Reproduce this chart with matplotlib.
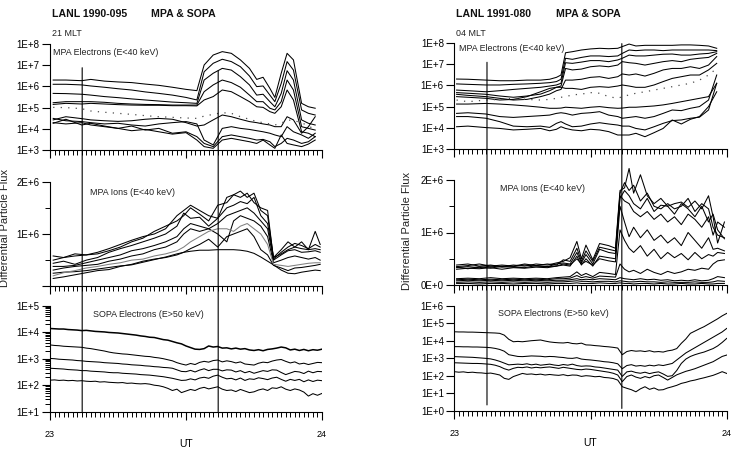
import matplotlib.pyplot as plt
import numpy as np
from matplotlib.patches import ConnectionPatch
from matplotlib.ticker import LogLocator, NullFormatter

plt.rcParams["font.family"] = ["Liberation Sans", "DejaVu Sans"]

# times are minutes after 23 UT
# ---------------- LANL 1990-095 (left) ----------------
t_el_L = [0.7, 3.5, 7, 9, 12, 15, 18, 21, 24, 27, 30, 32.4, 34, 36, 38, 40, 42, 44,
          45.6, 47, 48.5, 49.6, 51, 52.3, 53.7, 55.5, 57, 58.5]
# MPA electrons, log10 of flux
eL1 = [6.30, 6.30, 6.27, 6.33, 6.25, 6.21, 6.18, 6.11, 6.05, 5.96, 5.86, 5.80, 7.01, 7.48,
       7.64, 7.56, 7.25, 6.85, 6.33, 6.43, 5.91, 5.48, 6.62, 7.56, 7.25, 5.20, 5.04, 4.97]
eL2 = [6.10, 6.10, 6.07, 6.02, 5.96, 5.89, 5.83, 5.74, 5.67, 5.59, 5.48, 5.36, 6.69, 7.09,
       7.28, 7.17, 6.93, 6.49, 5.99, 6.02, 5.59, 5.28, 6.14, 7.17, 6.77, 4.89, 4.73, 4.65]
eL3 = [5.67, 5.66, 5.63, 5.59, 5.52, 5.47, 5.41, 5.36, 5.31, 5.26, 5.23, 5.20, 6.30, 6.62,
       6.85, 6.77, 6.46, 6.07, 5.59, 5.63, 5.28, 5.04, 5.67, 6.74, 6.30, 4.42, 4.26, 4.18]
eL4 = [5.23, 5.28, 5.28, 5.28, 5.25, 5.20, 5.17, 5.15, 5.14, 5.12, 5.12, 5.12, 5.75, 6.07,
       6.30, 6.18, 5.96, 5.59, 5.28, 5.28, 4.97, 4.89, 5.28, 6.30, 5.83, 4.10, 4.02, 3.94]
eL5 = [5.15, 5.20, 5.17, 5.20, 5.17, 5.14, 5.12, 5.11, 5.11, 5.09, 5.09, 5.08, 5.36, 5.52,
       5.83, 5.75, 5.52, 5.28, 5.04, 5.01, 4.81, 4.73, 5.04, 5.83, 5.36, 3.86, 3.79, 3.63]
eL_dot = [5.01, 5.00, 4.95, 4.84, 4.78, 4.73, 4.68, 4.62, 4.57, 4.54, 4.51, 4.49, 4.60, 4.68,
          4.76, 4.73, 4.57, 4.45, 4.34, 4.29, 4.23, 4.18, 4.26, 4.42, 4.39, 4.29, 4.13, 3.97]
eL6 = [4.42, 4.57, 4.48, 4.42, 4.38, 4.35, 4.38, 4.45, 4.49, 4.45, 4.29, 4.13, 4.18, 4.42,
       4.65, 4.57, 4.45, 4.34, 4.29, 4.23, 4.18, 4.10, 4.10, 4.57, 4.42, 3.79, 4.10, 4.57]
eL7 = [4.49, 4.38, 4.34, 4.29, 4.23, 4.26, 4.18, 4.13, 4.23, 4.29, 4.34, 4.23, 3.47, 3.24,
       4.02, 4.10, 4.02, 3.97, 3.91, 3.86, 3.79, 3.71, 3.63, 4.10, 3.86, 3.71, 3.55, 3.79]
eL8 = [4.29, 4.23, 4.29, 4.18, 4.10, 4.02, 4.13, 3.94, 4.02, 3.79, 3.86, 3.63, 3.31, 3.16,
       3.63, 3.71, 3.63, 3.55, 3.47, 3.50, 3.39, 3.16, 3.31, 3.55, 3.47, 3.31, 3.39, 3.63]
eL9 = [4.26, 4.45, 4.18, 4.26, 4.13, 4.02, 3.91, 3.97, 3.86, 3.75, 3.82, 3.47, 3.16, 3.08,
       3.47, 3.55, 3.47, 3.39, 3.31, 3.47, 3.24, 3.08, 3.71, 3.31, 3.24, 3.16, 3.28, 3.47]

t_ion_L = [0.7, 3, 5.5, 8, 10.5, 13, 15.5, 18, 20.5, 23, 25.5, 28, 29.5, 31, 33, 35, 37, 39,
           40.5, 42, 43.5, 45, 46.5, 48, 49.3, 51, 52.5, 54, 55.5, 57, 58.5, 59.6]
# MPA ions, flux in units of 1E+6
iL1 = [0.58, 0.55, 0.62, 0.60, 0.65, 0.72, 0.80, 0.88, 0.95, 1.00, 1.10, 1.35, 1.45, 1.55, 1.45, 1.35,
       1.30, 1.70, 1.75, 1.82, 1.70, 1.78, 1.45, 1.35, 0.55, 0.70, 0.85, 0.75, 0.85, 0.70, 1.05, 0.80]
iL2 = [0.50, 0.55, 0.58, 0.60, 0.62, 0.68, 0.75, 0.85, 0.92, 1.05, 1.15, 1.25, 1.35, 1.50, 1.38, 1.25,
       1.55, 1.60, 1.75, 1.70, 1.78, 1.60, 1.50, 1.45, 0.52, 0.65, 0.75, 0.82, 0.78, 0.72, 0.80, 0.75]
iL3 = [0.44, 0.48, 0.42, 0.50, 0.55, 0.65, 0.72, 0.78, 0.85, 0.92, 1.00, 1.15, 1.40, 1.30, 1.32, 1.15,
       1.30, 1.50, 1.55, 1.62, 1.58, 1.70, 1.35, 1.20, 0.55, 0.62, 0.70, 0.75, 0.72, 0.70, 0.72, 0.70]
iL4 = [0.38, 0.38, 0.40, 0.45, 0.50, 0.55, 0.60, 0.68, 0.72, 0.78, 0.85, 0.95, 1.10, 1.20, 1.15, 1.10,
       1.20, 1.35, 1.40, 1.45, 1.50, 1.40, 1.25, 1.10, 0.50, 0.60, 0.68, 0.70, 0.65, 0.66, 0.68, 0.65]
iL5 = [0.31, 0.35, 0.38, 0.40, 0.42, 0.48, 0.52, 0.58, 0.62, 0.70, 0.75, 0.85, 1.00, 1.10, 1.05, 1.10,
       1.00, 0.85, 1.25, 1.35, 1.30, 1.25, 1.15, 0.95, 0.45, 0.50, 0.55, 0.58, 0.55, 0.52, 0.55, 0.50]
iL6 = [0.20, 0.26, 0.30, 0.35, 0.38, 0.42, 0.45, 0.50, 0.52, 0.58, 0.62, 0.68, 0.75, 0.85, 0.95, 1.05,
       1.10, 1.10, 1.05, 1.15, 1.20, 1.10, 1.00, 0.80, 0.42, 0.40, 0.38, 0.40, 0.42, 0.44, 0.45, 0.45]
iL7 = [0.15, 0.18, 0.22, 0.26, 0.30, 0.32, 0.38, 0.42, 0.48, 0.52, 0.55, 0.60, 0.65, 0.72, 0.80, 0.90,
       0.75, 0.95, 1.00, 1.05, 1.10, 0.95, 0.70, 0.60, 0.40, 0.35, 0.30, 0.35, 0.36, 0.38, 0.40, 0.42]
iL8 = [0.25, 0.27, 0.28, 0.30, 0.33, 0.36, 0.39, 0.41, 0.46, 0.51, 0.56, 0.62, 0.65, 0.67, 0.69, 0.69,
       0.70, 0.70, 0.70, 0.69, 0.67, 0.63, 0.56, 0.48, 0.41, 0.31, 0.25, 0.24, 0.27, 0.29, 0.31, 0.30]

t_sopa = np.arange(61)
# SOPA electrons, log10 of flux, one value a minute
sL1 = [4.14, 4.13, 4.12, 4.12, 4.10, 4.09, 4.08, 4.06, 4.07, 4.05, 4.03, 4.02, 4.01, 3.99, 3.98, 3.97,
       3.95, 3.93, 3.91, 3.89, 3.86, 3.84, 3.81, 3.80, 3.76, 3.72, 3.70, 3.65, 3.60, 3.56, 3.48, 3.42,
       3.36, 3.35, 3.38, 3.48, 3.44, 3.46, 3.40, 3.41, 3.37, 3.40, 3.36, 3.38, 3.33, 3.31, 3.34, 3.30,
       3.35, 3.37, 3.40, 3.44, 3.41, 3.33, 3.36, 3.31, 3.35, 3.30, 3.34, 3.32, 3.36]
sL2 = [3.52, 3.50, 3.49, 3.47, 3.46, 3.45, 3.44, 3.43, 3.40, 3.38, 3.35, 3.32, 3.29, 3.25, 3.22, 3.20,
       3.18, 3.17, 3.15, 3.13, 3.11, 3.09, 3.08, 3.05, 3.03, 3.00, 2.96, 2.92, 2.85, 2.80, 2.76, 2.82,
       2.78, 2.86, 2.90, 2.87, 2.93, 2.95, 2.88, 2.92, 2.89, 2.84, 2.88, 2.80, 2.78, 2.76, 2.83, 2.87,
       2.85, 2.91, 2.95, 2.97, 2.90, 2.84, 2.88, 2.80, 2.83, 2.78, 2.82, 2.86, 2.85]
sL3 = [3.01, 3.00, 2.98, 2.97, 2.96, 2.95, 2.93, 2.92, 2.90, 2.89, 2.88, 2.87, 2.85, 2.84, 2.83, 2.82,
       2.80, 2.79, 2.77, 2.76, 2.75, 2.73, 2.72, 2.70, 2.69, 2.67, 2.66, 2.64, 2.58, 2.52, 2.51, 2.56,
       2.50, 2.57, 2.62, 2.55, 2.60, 2.60, 2.54, 2.58, 2.57, 2.50, 2.55, 2.47, 2.52, 2.45, 2.50, 2.55,
       2.52, 2.58, 2.57, 2.48, 2.40, 2.46, 2.52, 2.50, 2.44, 2.53, 2.47, 2.52, 2.51]
sL4 = [2.64, 2.63, 2.62, 2.61, 2.59, 2.58, 2.57, 2.55, 2.55, 2.53, 2.52, 2.51, 2.50, 2.48, 2.47, 2.47,
       2.45, 2.44, 2.43, 2.42, 2.40, 2.39, 2.38, 2.36, 2.34, 2.32, 2.29, 2.26, 2.22, 2.18, 2.19, 2.24,
       2.20, 2.27, 2.30, 2.26, 2.34, 2.38, 2.30, 2.24, 2.26, 2.20, 2.27, 2.18, 2.24, 2.22, 2.28, 2.25,
       2.21, 2.27, 2.30, 2.22, 2.15, 2.22, 2.18, 2.22, 2.13, 2.20, 2.14, 2.19, 2.17]
sL5 = [2.19, 2.20, 2.18, 2.19, 2.17, 2.18, 2.16, 2.17, 2.15, 2.14, 2.15, 2.12, 2.13, 2.11, 2.10, 2.09,
       2.10, 2.07, 2.08, 2.06, 2.05, 2.06, 2.04, 2.00, 1.98, 1.94, 1.88, 1.80, 1.85, 1.72, 1.78, 1.84,
       1.80, 1.88, 1.92, 1.86, 1.90, 1.94, 1.85, 1.80, 1.82, 1.76, 1.84, 1.78, 1.72, 1.75, 1.82, 1.86,
       1.80, 1.90, 1.88, 1.94, 1.85, 1.80, 1.86, 1.82, 1.74, 1.59, 1.68, 1.62, 1.69]

# ---------------- LANL 1991-080 (right) ----------------
t_el_R = [0.5, 3, 7, 10, 13, 16, 19, 21, 22.5, 23.5, 24.5, 26, 28, 30, 32, 34, 36, 37, 38.5,
          40, 42, 44, 46, 48, 50, 52, 54, 56, 57.8]
eR1 = [6.30, 6.29, 6.25, 6.22, 6.22, 6.25, 6.25, 6.29, 6.38, 6.49, 7.54, 7.59, 7.67, 7.72, 7.75,
       7.73, 7.75, 7.83, 7.95, 7.86, 7.89, 7.89, 7.89, 7.89, 7.91, 7.91, 7.89, 7.86, 7.75]
eR2 = [6.07, 6.05, 6.02, 6.02, 6.05, 6.07, 6.10, 6.13, 6.18, 6.29, 7.28, 7.23, 7.32, 7.39, 7.39,
       7.36, 7.39, 7.51, 7.67, 7.64, 7.67, 7.67, 7.64, 7.67, 7.67, 7.67, 7.67, 7.67, 7.64]
eR3 = [5.78, 5.75, 5.70, 5.75, 5.81, 5.86, 5.91, 5.97, 6.02, 6.10, 7.07, 7.04, 7.10, 7.17, 7.17,
       7.12, 7.20, 7.28, 7.43, 7.39, 7.39, 7.43, 7.47, 7.48, 7.43, 7.43, 7.48, 7.51, 7.59]
eR4 = [5.66, 5.63, 5.58, 5.50, 5.44, 5.50, 5.59, 5.75, 5.91, 5.97, 6.80, 6.73, 6.77, 6.88, 6.92,
       6.88, 6.96, 7.12, 7.07, 7.04, 6.96, 7.04, 7.12, 7.17, 7.12, 7.23, 7.28, 7.32, 7.51]
eR5 = [5.58, 5.53, 5.47, 5.39, 5.31, 5.34, 5.47, 5.59, 5.75, 5.81, 6.25, 6.25, 6.29, 6.38, 6.41,
       6.33, 6.41, 6.54, 6.49, 6.54, 6.44, 6.57, 6.73, 6.80, 6.80, 6.88, 6.80, 6.96, 7.36]
eR6 = [5.47, 5.44, 5.39, 5.31, 5.34, 5.47, 5.70, 5.86, 5.91, 5.91, 5.86, 5.86, 5.81, 5.91, 5.94,
       5.91, 5.97, 6.02, 5.97, 5.91, 5.91, 6.02, 6.18, 6.33, 6.41, 6.49, 6.49, 6.73, 7.04]
eR_dot = [5.31, 5.23, 5.31, 5.34, 5.39, 5.34, 5.31, 5.34, 5.39, 5.44, 5.47, 5.55, 5.59, 5.66, 5.63,
          5.47, 5.39, 5.47, 5.55, 5.63, 5.70, 5.78, 5.86, 5.94, 6.02, 6.10, 6.25, 6.49, 6.80]
eR7 = [5.12, 5.12, 5.15, 5.12, 5.08, 5.03, 4.97, 4.92, 4.92, 4.93, 4.97, 4.95, 4.92, 4.97, 5.00,
       4.95, 4.92, 4.93, 4.97, 4.97, 5.00, 5.03, 5.08, 5.15, 5.23, 5.31, 5.39, 5.47, 6.10]
eR8 = [4.68, 4.71, 4.65, 4.53, 4.49, 4.53, 4.57, 4.60, 4.68, 4.71, 4.68, 4.60, 4.68, 4.71, 4.76,
       4.60, 4.53, 4.45, 4.49, 4.53, 4.45, 4.53, 4.68, 4.84, 4.81, 4.92, 5.00, 5.31, 6.49]
eR9 = [4.53, 4.53, 4.45, 4.29, 4.08, 4.05, 4.08, 4.02, 4.21, 4.29, 4.18, 4.05, 4.08, 4.18, 4.24,
       4.18, 4.13, 4.08, 4.08, 3.97, 3.90, 4.05, 4.21, 4.34, 4.37, 4.45, 4.50, 4.84, 6.10]
eR10 = [4.05, 4.08, 4.01, 3.97, 3.90, 3.93, 3.97, 3.86, 3.93, 4.05, 3.97, 3.90, 3.86, 3.93, 3.90,
        3.82, 3.66, 3.66, 3.66, 3.74, 3.58, 3.77, 3.97, 4.37, 4.18, 4.40, 4.53, 5.00, 5.70]

t_ion_R = [0.5, 3, 5.5, 8, 10.5, 13, 15.5, 18, 20.5, 22.5, 24, 25.5, 27, 28, 29, 30.5, 32, 34, 35.5,
           36.5, 37.5, 38.5, 39.5, 41, 42.5, 44, 45.5, 47, 48.5, 50, 51.5, 53, 54.5, 56, 57, 58, 59.5]
iR1 = [0.38, 0.40, 0.36, 0.38, 0.35, 0.38, 0.36, 0.40, 0.38, 0.42, 0.45, 0.52, 0.83, 0.50, 0.76, 0.48,
       0.79, 0.75, 0.70, 1.80, 1.85, 2.22, 1.75, 2.10, 1.70, 1.55, 1.65, 1.50, 1.55, 1.58, 1.48, 1.60,
       1.45, 1.70, 1.30, 0.80, 1.20]
iR2 = [0.35, 0.37, 0.40, 0.36, 0.38, 0.36, 0.40, 0.37, 0.40, 0.38, 0.48, 0.45, 0.70, 0.45, 0.65, 0.45,
       0.72, 0.68, 0.65, 1.75, 1.95, 1.80, 1.90, 1.60, 1.75, 1.50, 1.45, 1.55, 1.45, 1.50, 1.65, 1.40,
       1.55, 1.45, 1.10, 0.95, 0.90]
iR3 = [0.33, 0.35, 0.33, 0.36, 0.34, 0.35, 0.38, 0.36, 0.35, 0.40, 0.42, 0.40, 0.62, 0.42, 0.58, 0.40,
       0.68, 0.62, 0.60, 1.65, 1.80, 1.70, 1.55, 1.45, 1.65, 1.40, 1.52, 1.50, 1.35, 1.55, 1.45, 1.30,
       1.50, 1.20, 1.35, 1.05, 0.88]
iR4 = [0.30, 0.32, 0.31, 0.33, 0.30, 0.33, 0.32, 0.34, 0.33, 0.36, 0.38, 0.36, 0.55, 0.38, 0.50, 0.36,
       0.55, 0.52, 0.50, 1.70, 1.60, 1.55, 1.40, 1.30, 1.40, 1.25, 1.35, 1.20, 1.30, 1.15, 1.35, 1.25,
       1.10, 1.30, 0.95, 1.20, 1.10]
iR5 = [0.34, 0.31, 0.35, 0.32, 0.36, 0.34, 0.33, 0.37, 0.35, 0.36, 0.40, 0.38, 0.50, 0.40, 0.45, 0.38,
       0.50, 0.46, 0.44, 1.50, 1.20, 0.92, 1.10, 0.90, 1.05, 0.85, 0.95, 0.80, 0.90, 0.75, 1.00, 0.85,
       0.70, 0.90, 0.68, 0.70, 0.65]
iR6 = [0.12, 0.13, 0.12, 0.14, 0.12, 0.13, 0.12, 0.13, 0.12, 0.14, 0.15, 0.16, 0.25, 0.18, 0.22, 0.16,
       0.24, 0.22, 0.20, 1.05, 0.85, 0.70, 0.62, 0.75, 0.55, 0.68, 0.50, 0.62, 0.52, 0.60, 0.48, 0.62,
       0.50, 0.58, 0.55, 0.62, 0.60]
iR7 = [0.10, 0.11, 0.10, 0.11, 0.10, 0.11, 0.10, 0.11, 0.10, 0.12, 0.12, 0.13, 0.18, 0.14, 0.16, 0.13,
       0.17, 0.16, 0.15, 0.40, 0.30, 0.25, 0.28, 0.22, 0.30, 0.24, 0.20, 0.26, 0.22, 0.25, 0.30, 0.28,
       0.32, 0.30, 0.40, 0.46, 0.48]
iR8 = [0.08, 0.09, 0.08, 0.09, 0.08, 0.09, 0.08, 0.09, 0.08, 0.09, 0.09, 0.10, 0.12, 0.10, 0.11, 0.10,
       0.12, 0.11, 0.10, 0.14, 0.12, 0.11, 0.10, 0.12, 0.10, 0.11, 0.09, 0.10, 0.08, 0.09, 0.08, 0.10,
       0.08, 0.09, 0.12, 0.16, 0.14]
iR9 = [0.05, 0.06, 0.05, 0.06, 0.05, 0.06, 0.05, 0.06, 0.05, 0.06, 0.06, 0.07, 0.08, 0.07, 0.07, 0.06,
       0.07, 0.07, 0.06, 0.08, 0.07, 0.06, 0.06, 0.07, 0.06, 0.06, 0.05, 0.06, 0.05, 0.05, 0.05, 0.06,
       0.05, 0.05, 0.06, 0.08, 0.07]
iR10 = [0.03, 0.03, 0.02, 0.03, 0.03, 0.02, 0.03, 0.03, 0.02, 0.03, 0.03, 0.03, 0.04, 0.03, 0.03, 0.03,
        0.04, 0.03, 0.03, 0.04, 0.03, 0.03, 0.02, 0.03, 0.03, 0.02, 0.03, 0.02, 0.02, 0.03, 0.02, 0.02,
        0.03, 0.02, 0.02, 0.03, 0.03]

sR1 = [4.51, 4.50, 4.50, 4.49, 4.49, 4.48, 4.47, 4.46, 4.45, 4.44, 4.42, 4.32, 4.08, 3.94, 3.96, 3.94,
       3.97, 4.00, 4.02, 4.04, 3.98, 3.93, 3.90, 3.88, 3.87, 3.90, 3.84, 3.82, 3.86, 3.76, 3.75, 3.72,
       3.70, 3.67, 3.65, 3.62, 3.58, 3.20, 3.38, 3.44, 3.40, 3.42, 3.38, 3.43, 3.36, 3.38, 3.35, 3.42,
       3.46, 3.55, 3.85, 4.10, 4.42, 4.55, 4.68, 4.80, 4.95, 5.10, 5.25, 5.42, 5.56]
sR2 = [3.66, 3.66, 3.65, 3.65, 3.64, 3.64, 3.63, 3.62, 3.60, 3.56, 3.50, 3.40, 3.20, 3.15, 3.10, 3.09,
       3.11, 3.13, 3.12, 3.11, 3.08, 3.10, 3.09, 3.06, 3.04, 3.00, 2.99, 3.03, 2.95, 2.92, 2.90, 2.87,
       2.84, 2.80, 2.78, 2.74, 2.68, 2.40, 2.58, 2.63, 2.55, 2.58, 2.54, 2.60, 2.56, 2.62, 2.58, 2.64,
       2.70, 2.90, 3.10, 3.30, 3.45, 3.60, 3.75, 3.90, 4.05, 4.20, 4.35, 4.50, 4.70]
sR3 = [3.09, 3.08, 3.07, 3.06, 3.05, 3.03, 3.01, 2.99, 2.96, 2.90, 2.82, 2.72, 2.62, 2.64, 2.66, 2.64,
       2.68, 2.62, 2.66, 2.60, 2.63, 2.66, 2.61, 2.58, 2.64, 2.60, 2.66, 2.58, 2.54, 2.56, 2.55, 2.50,
       2.48, 2.44, 2.40, 2.36, 2.32, 1.96, 2.22, 2.26, 2.18, 2.14, 2.20, 2.12, 2.18, 2.22, 2.10, 1.96,
       2.00, 2.30, 2.70, 2.95, 3.10, 3.20, 3.28, 3.35, 3.45, 3.55, 3.70, 3.90, 4.13]
sR4 = [2.74, 2.73, 2.72, 2.71, 2.70, 2.70, 2.69, 2.67, 2.65, 2.60, 2.52, 2.40, 2.32, 2.42, 2.48, 2.46,
       2.50, 2.44, 2.48, 2.45, 2.48, 2.50, 2.46, 2.42, 2.48, 2.44, 2.40, 2.36, 2.34, 2.38, 2.36, 2.32,
       2.28, 2.24, 2.20, 2.14, 2.04, 1.66, 1.95, 2.04, 1.92, 1.85, 1.95, 1.88, 2.00, 2.04, 1.90, 1.75,
       1.90, 2.05, 2.15, 2.25, 2.32, 2.40, 2.50, 2.60, 2.70, 2.80, 2.95, 3.10, 3.18]
sR5 = [2.23, 2.20, 2.22, 2.18, 2.20, 2.17, 2.16, 2.13, 2.15, 2.10, 2.04, 1.85, 1.79, 1.95, 2.04, 2.13,
       2.08, 2.10, 2.06, 2.09, 2.04, 2.07, 2.04, 2.02, 2.06, 2.00, 2.04, 2.03, 1.96, 2.00, 1.98, 1.94,
       1.96, 1.90, 1.88, 1.84, 1.75, 1.37, 1.28, 1.20, 1.08, 1.25, 1.37, 1.22, 1.30, 1.18, 1.20, 1.30,
       1.37, 1.45, 1.56, 1.62, 1.70, 1.75, 1.82, 1.88, 1.95, 2.02, 2.12, 2.23, 2.13]

# event markers (minutes after 23 UT)
events_L = [7.1, 37.1]
events_R = [7.2, 36.9]

W, H = 737, 453
fig = plt.figure(figsize=(W / 100, H / 100), dpi=100)


def px_axes(x0, x1, ytop, ybot):
    return fig.add_axes([x0 / W, 1 - ybot / H, (x1 - x0) / W, (ybot - ytop) / H])


def style(ax, bottom=False):
    for s in ("top", "right"):
        ax.spines[s].set_visible(False)
    for s in ("left", "bottom"):
        ax.spines[s].set_linewidth(0.8)
    ax.set_xlim(0, 60)
    ax.set_xticks([0, 30, 60])
    ax.set_xticks(np.arange(0, 61, 1), minor=True)
    ax.tick_params(axis="both", which="major", direction="out", length=6, width=0.8,
                   labelsize=7, pad=1.5)
    ax.tick_params(axis="both", which="minor", direction="out", length=3.5, width=0.7)
    if bottom:
        ax.set_xticklabels(["23", "", "24"], fontsize=6.5)
        ax.tick_params(axis="x", which="major", pad=7)
        ax.set_xlabel("UT", fontsize=7.5, labelpad=0)
    else:
        ax.tick_params(axis="x", labelbottom=False)


def log_axis(ax, lo, hi):
    ax.set_yscale("log")
    ax.set_ylim(10.0 ** lo, 10.0 ** hi)
    ax.set_yticks([10.0 ** k for k in range(lo, hi + 1)],
                  labels=["1E+%d" % k for k in range(lo, hi + 1)])
    ax.yaxis.set_minor_locator(LogLocator(base=10, subs=np.arange(2, 10)))
    ax.yaxis.set_minor_formatter(NullFormatter())


def lin_axis(ax, zero_label):
    ax.set_ylim(0, 2.3e6)
    ax.set_yticks([0, 1e6, 2e6], labels=[zero_label, "1E+6", "2E+6"])
    ax.set_yticks([0.5e6, 1.5e6], minor=True)
    ax.spines["left"].set_bounds(0, 2e6)


lw = 0.75
txt = dict(fontsize=6.4, color="#222222")

# ---------------- left column ----------------
axL1 = px_axes(50, 322, 44, 150)
axL2 = px_axes(50, 322, 166, 286.3)
axL3 = px_axes(50, 322, 305.7, 411.7)

for s in [eL1, eL2, eL3, eL4, eL5, eL6, eL7, eL8, eL9]:
    axL1.plot(t_el_L, 10 ** np.array(s), color="k", lw=lw)
axL1.plot(t_el_L, 10 ** np.array(eL_dot), color="0.3", lw=0.9, ls=(0, (1, 5)))
log_axis(axL1, 3, 8)
style(axL1)
axL1.text(0.66, 10 ** 7.62, "MPA Electrons (E<40 keV)", va="center", **txt)

for s in [iL1, iL2, iL3, iL4, iL5, iL7, iL8]:
    axL2.plot(t_ion_L, np.array(s) * 1e6, color="k", lw=lw)
axL2.plot(t_ion_L, np.array(iL6) * 1e6, color="0.5", lw=lw)
lin_axis(axL2, "")
style(axL2)
axL2.text(8.8, 1.8e6, "MPA Ions (E<40 keV)", va="center", **txt)

for i, s in enumerate([sL1, sL2, sL3, sL4, sL5]):
    axL3.plot(t_sopa, 10 ** np.array(s), color="k", lw=1.1 if i == 0 else lw)
log_axis(axL3, 1, 5)
style(axL3, bottom=True)
axL3.text(9.4, 10 ** 4.65, "SOPA Electrons (E>50 keV)", va="center", **txt)

# ---------------- right column ----------------
axR1 = px_axes(454.3, 726.7, 43, 149)
axR2 = px_axes(454.3, 726.7, 164.25, 285)
axR3 = px_axes(454.3, 726.7, 305.7, 410.7)

for s in [eR1, eR2, eR3, eR4, eR5, eR6, eR7, eR8, eR9, eR10]:
    axR1.plot(t_el_R, 10 ** np.array(s), color="k", lw=lw)
axR1.plot(t_el_R, 10 ** np.array(eR_dot), color="0.3", lw=0.9, ls=(0, (1, 5)))
log_axis(axR1, 3, 8)
style(axR1)
axR1.text(1.04, 10 ** 7.72, "MPA Electrons (E<40 keV)", va="center", **txt)

for s in [iR1, iR2, iR3, iR4, iR5, iR6, iR7, iR8, iR9, iR10]:
    axR2.plot(t_ion_R, np.array(s) * 1e6, color="k", lw=lw)
lin_axis(axR2, "0E+0")
style(axR2)
axR2.text(10.1, 1.83e6, "MPA Ions (E<40 keV)", va="center", **txt)

for s in [sR1, sR2, sR3, sR4, sR5]:
    axR3.plot(t_sopa, 10 ** np.array(s), color="k", lw=lw)
log_axis(axR3, 0, 6)
style(axR3, bottom=True)
axR3.text(9.56, 10 ** 5.53, "SOPA Electrons (E>50 keV)", va="center", **txt)

# event lines running through all three panels
for t, top in zip(events_L, [10 ** 6.88, 10 ** 6.74]):
    fig.add_artist(ConnectionPatch(xyA=(t, top), coordsA="data", axesA=axL1,
                                   xyB=(t, 10.0), coordsB="data", axesB=axL3,
                                   color="k", lw=0.8))
for t, top, bot in zip(events_R, [10 ** 7.09, 10 ** 7.97], [10 ** 0.33, 10 ** 0.13]):
    fig.add_artist(ConnectionPatch(xyA=(t, top), coordsA="data", axesA=axR1,
                                   xyB=(t, bot), coordsB="data", axesB=axR3,
                                   color="k", lw=0.8))

# titles and labels
title = dict(fontsize=7.6, fontweight="bold", va="center", color="#111111")
fig.text(52 / W, 1 - 14 / H, "LANL 1990-095", **title)
fig.text(151 / W, 1 - 14 / H, "MPA & SOPA", **title)
fig.text(455.7 / W, 1 - 14 / H, "LANL 1991-080", **title)
fig.text(555.7 / W, 1 - 14 / H, "MPA & SOPA", **title)
fig.text(52 / W, 1 - 34 / H, "21 MLT", va="center", **txt)
fig.text(455.7 / W, 1 - 34 / H, "04 MLT", va="center", **txt)

ylab = dict(fontsize=8, rotation=90, ha="center", va="center", color="#222222")
fig.text(5 / W, 1 - 228 / H, "Differential Particle Flux", **ylab)
fig.text(407 / W, 1 - 231 / H, "Differential Particle Flux", **ylab)

fig.savefig("out.png", dpi=100)
